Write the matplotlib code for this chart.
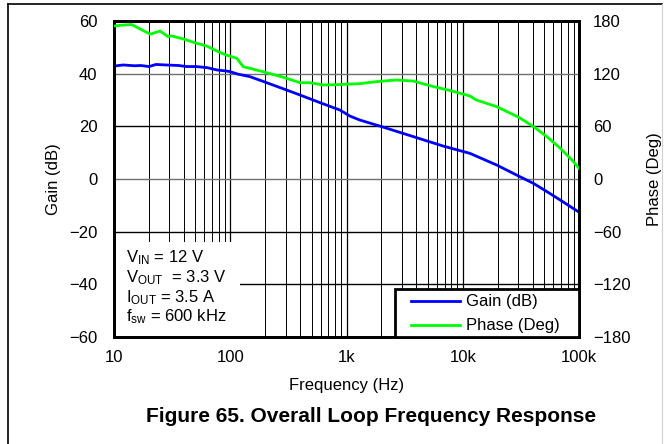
import numpy as np
import matplotlib
matplotlib.use("Agg")
from matplotlib import pyplot as plt
from matplotlib.patches import Rectangle

plt.rcParams['font.family'] = ['Liberation Sans', 'DejaVu Sans']
plt.rcParams['mathtext.fontset'] = 'custom'
plt.rcParams['mathtext.rm'] = 'Liberation Sans'
plt.rcParams['mathtext.it'] = 'Liberation Sans'

# gain curve (Hz, dB)
gain_f = [10, 12, 15, 17, 20, 23, 28, 36, 42, 51, 63, 77, 93, 99, 117, 147, 205, 305,
          398, 591, 877, 1070, 1300, 2000, 3750, 6790, 9400, 11500, 19600, 30300,
          40700, 53000, 69000, 100000]
gain_db = [42.9, 43.3, 43.0, 43.1, 42.7, 43.5, 43.3, 43.1, 42.7, 42.7, 42.3, 41.4, 41.0,
           40.8, 39.8, 38.9, 36.6, 33.8, 31.9, 29.0, 26.2, 23.9, 22.4, 19.9, 16.1, 12.5,
           10.8, 9.75, 5.3, 1.1, -1.7, -4.8, -8.0, -12.6]

# phase curve (Hz, deg)
phase_f = [10, 12, 14.2, 17.3, 20.4, 24.9, 29.3, 31.3, 39.5, 51.4, 62.8, 76.6, 93.4,
           114, 129, 192, 286, 398, 483, 630, 877, 1070, 1300, 1800, 2690, 3750, 5620,
           7880, 11500, 13100, 19600, 30300, 40700, 53000, 69000, 87000, 100000]
phase_deg = [174.3, 175.4, 176.0, 170.0, 165.0, 168.6, 162.0, 163.0, 159.5, 154.6, 151.5,
             145.8, 141.0, 137.5, 128.0, 122.2, 115.9, 109.7, 109.7, 107.1, 107.6, 108.2,
             108.6, 110.9, 112.8, 111.6, 105.2, 100.6, 94.6, 90.0, 82.4, 70.3, 59.6,
             48.2, 35.0, 21.6, 12.2]

gain_ticks = [-60, -40, -20, 0, 20, 40, 60]
phase_ticks = [-180, -120, -60, 0, 60, 120, 180]
freq_ticks = [10, 100, 1000, 10000, 100000]
freq_labels = ["10", "100", "1k", "10k", "100k"]
series_names = ["Gain (dB)", "Phase (Deg)"]
series_colors = ["#0000ff", "#00ff00"]

fig = plt.figure(figsize=(6.71, 4.44), dpi=100)
W, H = 671, 444
AX_L, AX_R, AX_T, AX_B = 114, 579, 21, 337
ax = fig.add_axes([AX_L / W, 1 - AX_B / H, (AX_R - AX_L) / W, (AX_B - AX_T) / H])
ax.set_xscale('log')
ax.set_xlim(10, 100000)
ax.set_ylim(-60, 60)


def px(x, y):
    # pixel position -> axes fraction
    return (x - AX_L) / (AX_R - AX_L), (AX_B - y) / (AX_B - AX_T)


# grid lines
for d in [10, 100, 1000, 10000]:
    for m in range(2, 10):
        ax.axvline(d * m, color='black', lw=0.7, zorder=1)
    ax.axvline(d, color='black', lw=0.9, zorder=1)
for g in gain_ticks[1:-1]:
    c = '#707070' if g in (0, 40) else 'black'
    ax.axhline(g, color=c, lw=1.0, zorder=1)

ax.plot(gain_f, gain_db, color=series_colors[0], lw=2, zorder=3)

ax.set_xticks(freq_ticks)
ax.set_xticklabels(freq_labels)
ax.xaxis.set_minor_locator(matplotlib.ticker.NullLocator())
ax.set_yticks(gain_ticks)
ax.set_yticklabels([str(v).replace('-', '\u2212') for v in gain_ticks])
ax.tick_params(length=0, labelsize=12, pad=12)
ax.tick_params(axis='x', pad=9)
ax.set_ylabel("Gain (dB)", fontsize=12, labelpad=6)
ax.set_xlabel("Frequency (Hz)", fontsize=12, labelpad=10)
for s in ax.spines.values():
    s.set_linewidth(2)

# conditions box
x0, y0 = px(AX_L, AX_B)
x1, y1 = px(240, 242)
ax.add_patch(Rectangle((x0, y0), x1 - x0, y1 - y0, transform=ax.transAxes,
                       facecolor='white', edgecolor='none', zorder=2))
cond = [r"V$_{\mathrm{IN}}$ = 12 V", r"V$_{\mathrm{OUT}}$  = 3.3 V",
        r"I$_{\mathrm{OUT}}$ = 3.5 A", r"f$_{\mathrm{sw}}$ = 600 kHz"]
for i, t in enumerate(cond):
    tx, ty = px(126, 258 + 19.7 * i)
    ax.text(tx, ty, t, transform=ax.transAxes, fontsize=12, va='center', ha='left', zorder=4)

ax2 = ax.twinx()
ax2.set_ylim(-180, 180)
ax2.plot(phase_f, phase_deg, color=series_colors[1], lw=2, zorder=3)
ax2.set_yticks(phase_ticks)
ax2.set_yticklabels([str(v).replace('-', '\u2212') for v in phase_ticks])
ax2.tick_params(length=0, labelsize=12, pad=10)
ax2.set_ylabel("Phase (Deg)", fontsize=12, labelpad=12)
for s in ax2.spines.values():
    s.set_linewidth(2)

# legend box
lx0, ly0 = px(395, AX_B)
lx1, ly1 = px(AX_R, 289)
ax2.add_patch(Rectangle((lx0, ly0), lx1 - lx0, ly1 - ly0, transform=ax2.transAxes,
                        facecolor='white', edgecolor='black', lw=2, zorder=5, clip_on=False))
for i, (name, col) in enumerate(zip(series_names, series_colors)):
    ya = 301 + 24 * i
    a, b = px(411, ya)
    c, _ = px(460, ya)
    ax2.plot([a, c], [b, b], color=col, lw=2, transform=ax2.transAxes, zorder=6)
    t, _ = px(466, ya)
    ax2.text(t, b, name, transform=ax2.transAxes, fontsize=12, va='center', ha='left', zorder=6)

fig.text(371 / W, 1 - 416 / H, "Figure 65. Overall Loop Frequency Response",
         fontsize=15, fontweight='bold', ha='center', va='center')

# outer frame
fig.add_artist(plt.Line2D([8 / W, 8 / W], [0, 1 - 4 / H], color='black', lw=1.2))
fig.add_artist(plt.Line2D([8 / W, 662 / W], [1 - 4 / H, 1 - 4 / H], color='black', lw=1.2))
fig.add_artist(plt.Line2D([662 / W, 662 / W], [0, 1 - 4 / H], color='#d0d0d0', lw=0.8))

fig.savefig("out.png", dpi=100)
